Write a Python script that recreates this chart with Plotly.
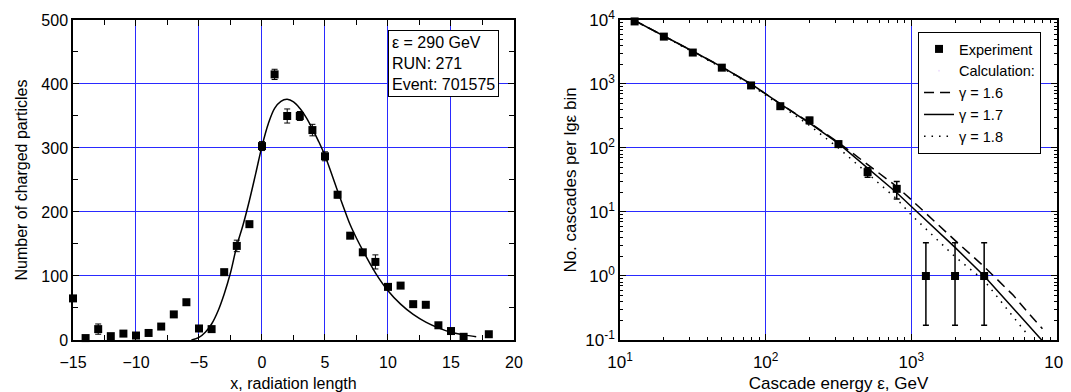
import plotly.graph_objects as go

# ---------- Left panel data ----------
depth_x = [-15, -14, -13, -12, -11, -10, -9, -8, -7, -6, -5, -4, -3, -2, -1, 0, 1, 2, 3, 4, 5, 6, 7, 8, 9, 10, 11, 12, 13, 14, 15, 16, 18]
particles = [65, 3, 17, 6, 10, 7, 11, 21, 40, 59, 18, 17, 106, 147, 181, 303, 415, 350, 350, 328, 287, 227, 163, 137, 122, 83, 85, 56, 55, 23, 14, 5, 9]
particles_err = [3, 3, 8, 3, 3, 3, 3, 3, 3, 4, 3, 3, 4, 9, 4, 7, 8, 11, 7, 9, 7, 5, 4, 3, 11, 4, 3, 3, 3, 3, 3, 3, 3]

curve_x = [-5.6, -5, -4.5, -4, -3.5, -3, -2.5, -2, -1.5, -1, -0.5, 0, 0.5, 1, 1.5, 2, 2.5, 3, 3.5, 4, 4.5, 5, 5.5, 6, 6.5, 7, 7.5, 8, 9, 10, 11, 12, 13, 14, 15, 16, 17]
curve_y = [0, 4, 12, 25, 45, 72, 105, 147, 180, 218, 260, 303, 338, 362, 373, 376, 372, 362, 348, 330, 310, 288, 261, 233, 206, 180, 159, 140, 105, 77, 56, 40, 28, 19, 12, 8, 5]

# ---------- Right panel data ----------
energy = [12.6, 20, 31.6, 50, 79.4, 126, 200, 316, 501, 794, 1259, 1995, 3162]
cascades = [9500, 5500, 3100, 1800, 950, 450, 270, 115, 42, 23, 1, 1, 1]
casc_err_plus = [400, 300, 200, 120, 60, 40, 30, 12, 7, 7, 2.3, 2.3, 2.3]
casc_err_minus = [400, 300, 200, 120, 60, 40, 30, 12, 7, 7, 0.83, 0.83, 0.83]

calc_e = [12.6, 20, 31.6, 50, 79.4, 126, 200, 316, 501, 794, 1000, 1259, 1995, 3162, 5012, 6300, 7943]
gamma16 = [9800, 5700, 3250, 1850, 1000, 490, 250, 122, 55, 25, 15.5, 9.5, 3.6, 1.4, 0.5, 0.27, 0.15]
gamma17 = [9800, 5700, 3250, 1850, 1000, 490, 245, 118, 49, 20, 12.2, 7.5, 2.8, 1.0, 0.31, 0.17, 0.097]
gamma18_e = [12.6, 20, 31.6, 50, 79.4, 126, 200, 316, 501, 794, 1000, 1259, 1995, 3162, 5012, 6300]
gamma18 = [9800, 5600, 3200, 1800, 960, 460, 225, 100, 40, 16, 9, 5.5, 2.0, 0.85, 0.23, 0.12]

# minor tick positions for log axes (2..9 in each decade)
energy_minor = [m * 10 ** d for d in range(1, 4) for m in range(2, 10)]
count_minor = [m * 10 ** d for d in range(-1, 4) for m in range(2, 10)]

FONT = "Arial, Liberation Sans, sans-serif"
GRID = "#2a2aff"

fig = go.Figure()

# Left panel
fig.add_trace(go.Scatter(x=curve_x, y=curve_y, mode="lines", line=dict(color="black", width=1.5, shape="spline"),
                         showlegend=False, xaxis="x", yaxis="y"))
fig.add_trace(go.Scatter(x=depth_x, y=particles, mode="markers",
                         marker=dict(symbol="square", size=8, color="black"),
                         error_y=dict(type="data", array=particles_err, color="black", thickness=1, width=3),
                         showlegend=False, xaxis="x", yaxis="y", cliponaxis=False))

# Right panel
fig.add_trace(go.Scatter(x=energy, y=cascades, mode="markers", name="Experiment",
                         marker=dict(symbol="square", size=8, color="black"),
                         error_y=dict(type="data", symmetric=False, array=casc_err_plus, arrayminus=casc_err_minus,
                                      color="black", thickness=1.5, width=3),
                         xaxis="x2", yaxis="y2", cliponaxis=False))
fig.add_trace(go.Scatter(x=[None], y=[None], mode="markers", name="Calculation:",
                         marker=dict(size=1, opacity=0), xaxis="x2", yaxis="y2"))
fig.add_trace(go.Scatter(x=calc_e, y=gamma16, mode="lines", name="\u03b3 = 1.6",
                         line=dict(color="black", width=1.5, dash="10px,6px"), xaxis="x2", yaxis="y2"))
fig.add_trace(go.Scatter(x=calc_e, y=gamma17, mode="lines", name="\u03b3 = 1.7",
                         line=dict(color="black", width=1.5), xaxis="x2", yaxis="y2"))
fig.add_trace(go.Scatter(x=gamma18_e, y=gamma18, mode="lines", name="\u03b3 = 1.8",
                         line=dict(color="black", width=1.5, dash="1.5px,6px"), xaxis="x2", yaxis="y2"))


def axis_style(size):
    return dict(showline=True, linecolor="black", linewidth=1.5, mirror="allticks",
                ticks="inside", ticklen=6, tickcolor="black", tickwidth=1,
                showgrid=True, gridcolor=GRID, gridwidth=1, zeroline=False, automargin=False,
                ticklabeloverflow="allow",
                tickfont=dict(family=FONT, size=size, color="black"))


fig.update_layout(
    width=1071, height=392,
    margin=dict(l=0, r=0, t=0, b=0, autoexpand=False),
    paper_bgcolor="white", plot_bgcolor="white",
    font=dict(family=FONT, size=15, color="black"),
    xaxis=dict(domain=[0.06069, 0.47246], range=[-15, 20], dtick=5, anchor="y", ticklabelstandoff=7,
               minor=dict(ticks="inside", ticklen=5, dtick=2.5, tickcolor="black", showgrid=False),
               title=dict(text="x, radiation length", font=dict(family=FONT, size=16), standoff=8),
               **axis_style(16)),
    yaxis=dict(domain=[0.15306, 0.96939], range=[0, 500], dtick=100, anchor="x",
               minor=dict(ticks="inside", ticklen=5, dtick=50, tickcolor="black", showgrid=False),
               title=dict(text="Number of charged particles", font=dict(family=FONT, size=16), standoff=10),
               **axis_style(16)),
    xaxis2=dict(domain=[0.57143, 0.97946], type="log", range=[1, 4], anchor="y2", ticklabelstandoff=6,
                tickvals=[10, 100, 1000, 10000],
                ticktext=["10<sup>1</sup>", "10<sup>2</sup>", "10<sup>3</sup>", "10<sup>4</sup>"],
                minor=dict(ticks="inside", ticklen=3, tickcolor="black", showgrid=False, tickvals=energy_minor),
                title=dict(text="Cascade energy \u03b5, GeV", font=dict(family=FONT, size=17), standoff=6),
                **axis_style(17)),
    yaxis2=dict(domain=[0.15306, 0.96939], type="log", range=[-1, 4], anchor="x2",
                tickvals=[0.1, 1, 10, 100, 1000, 10000],
                ticktext=["10<sup>-1</sup>", "10<sup>0</sup>", "10<sup>1</sup>", "10<sup>2</sup>", "10<sup>3</sup>", "10<sup>4</sup>"],
                minor=dict(ticks="inside", ticklen=3, tickcolor="black", showgrid=False, tickvals=count_minor),
                title=dict(text="No. cascades per lg\u03b5 bin", font=dict(family=FONT, size=17), standoff=4),
                **axis_style(17)),
    legend=dict(x=0.8497, y=0.9388, xanchor="left", yanchor="top",
                bgcolor="white", bordercolor="black", borderwidth=1,
                font=dict(family=FONT, size=14.5, color="black"), tracegroupgap=0),
    annotations=[dict(text="\u03b5 = 290 GeV<br>RUN: 271<br>Event: 701575",
                      xref="x domain", yref="y domain", x=0.7143, y=0.969,
                      xanchor="left", yanchor="top", align="left", showarrow=False,
                      bgcolor="white", bordercolor="black", borderwidth=1, borderpad=3,
                      font=dict(family=FONT, size=16, color="black"))],
)

fig.write_html("out.html")
